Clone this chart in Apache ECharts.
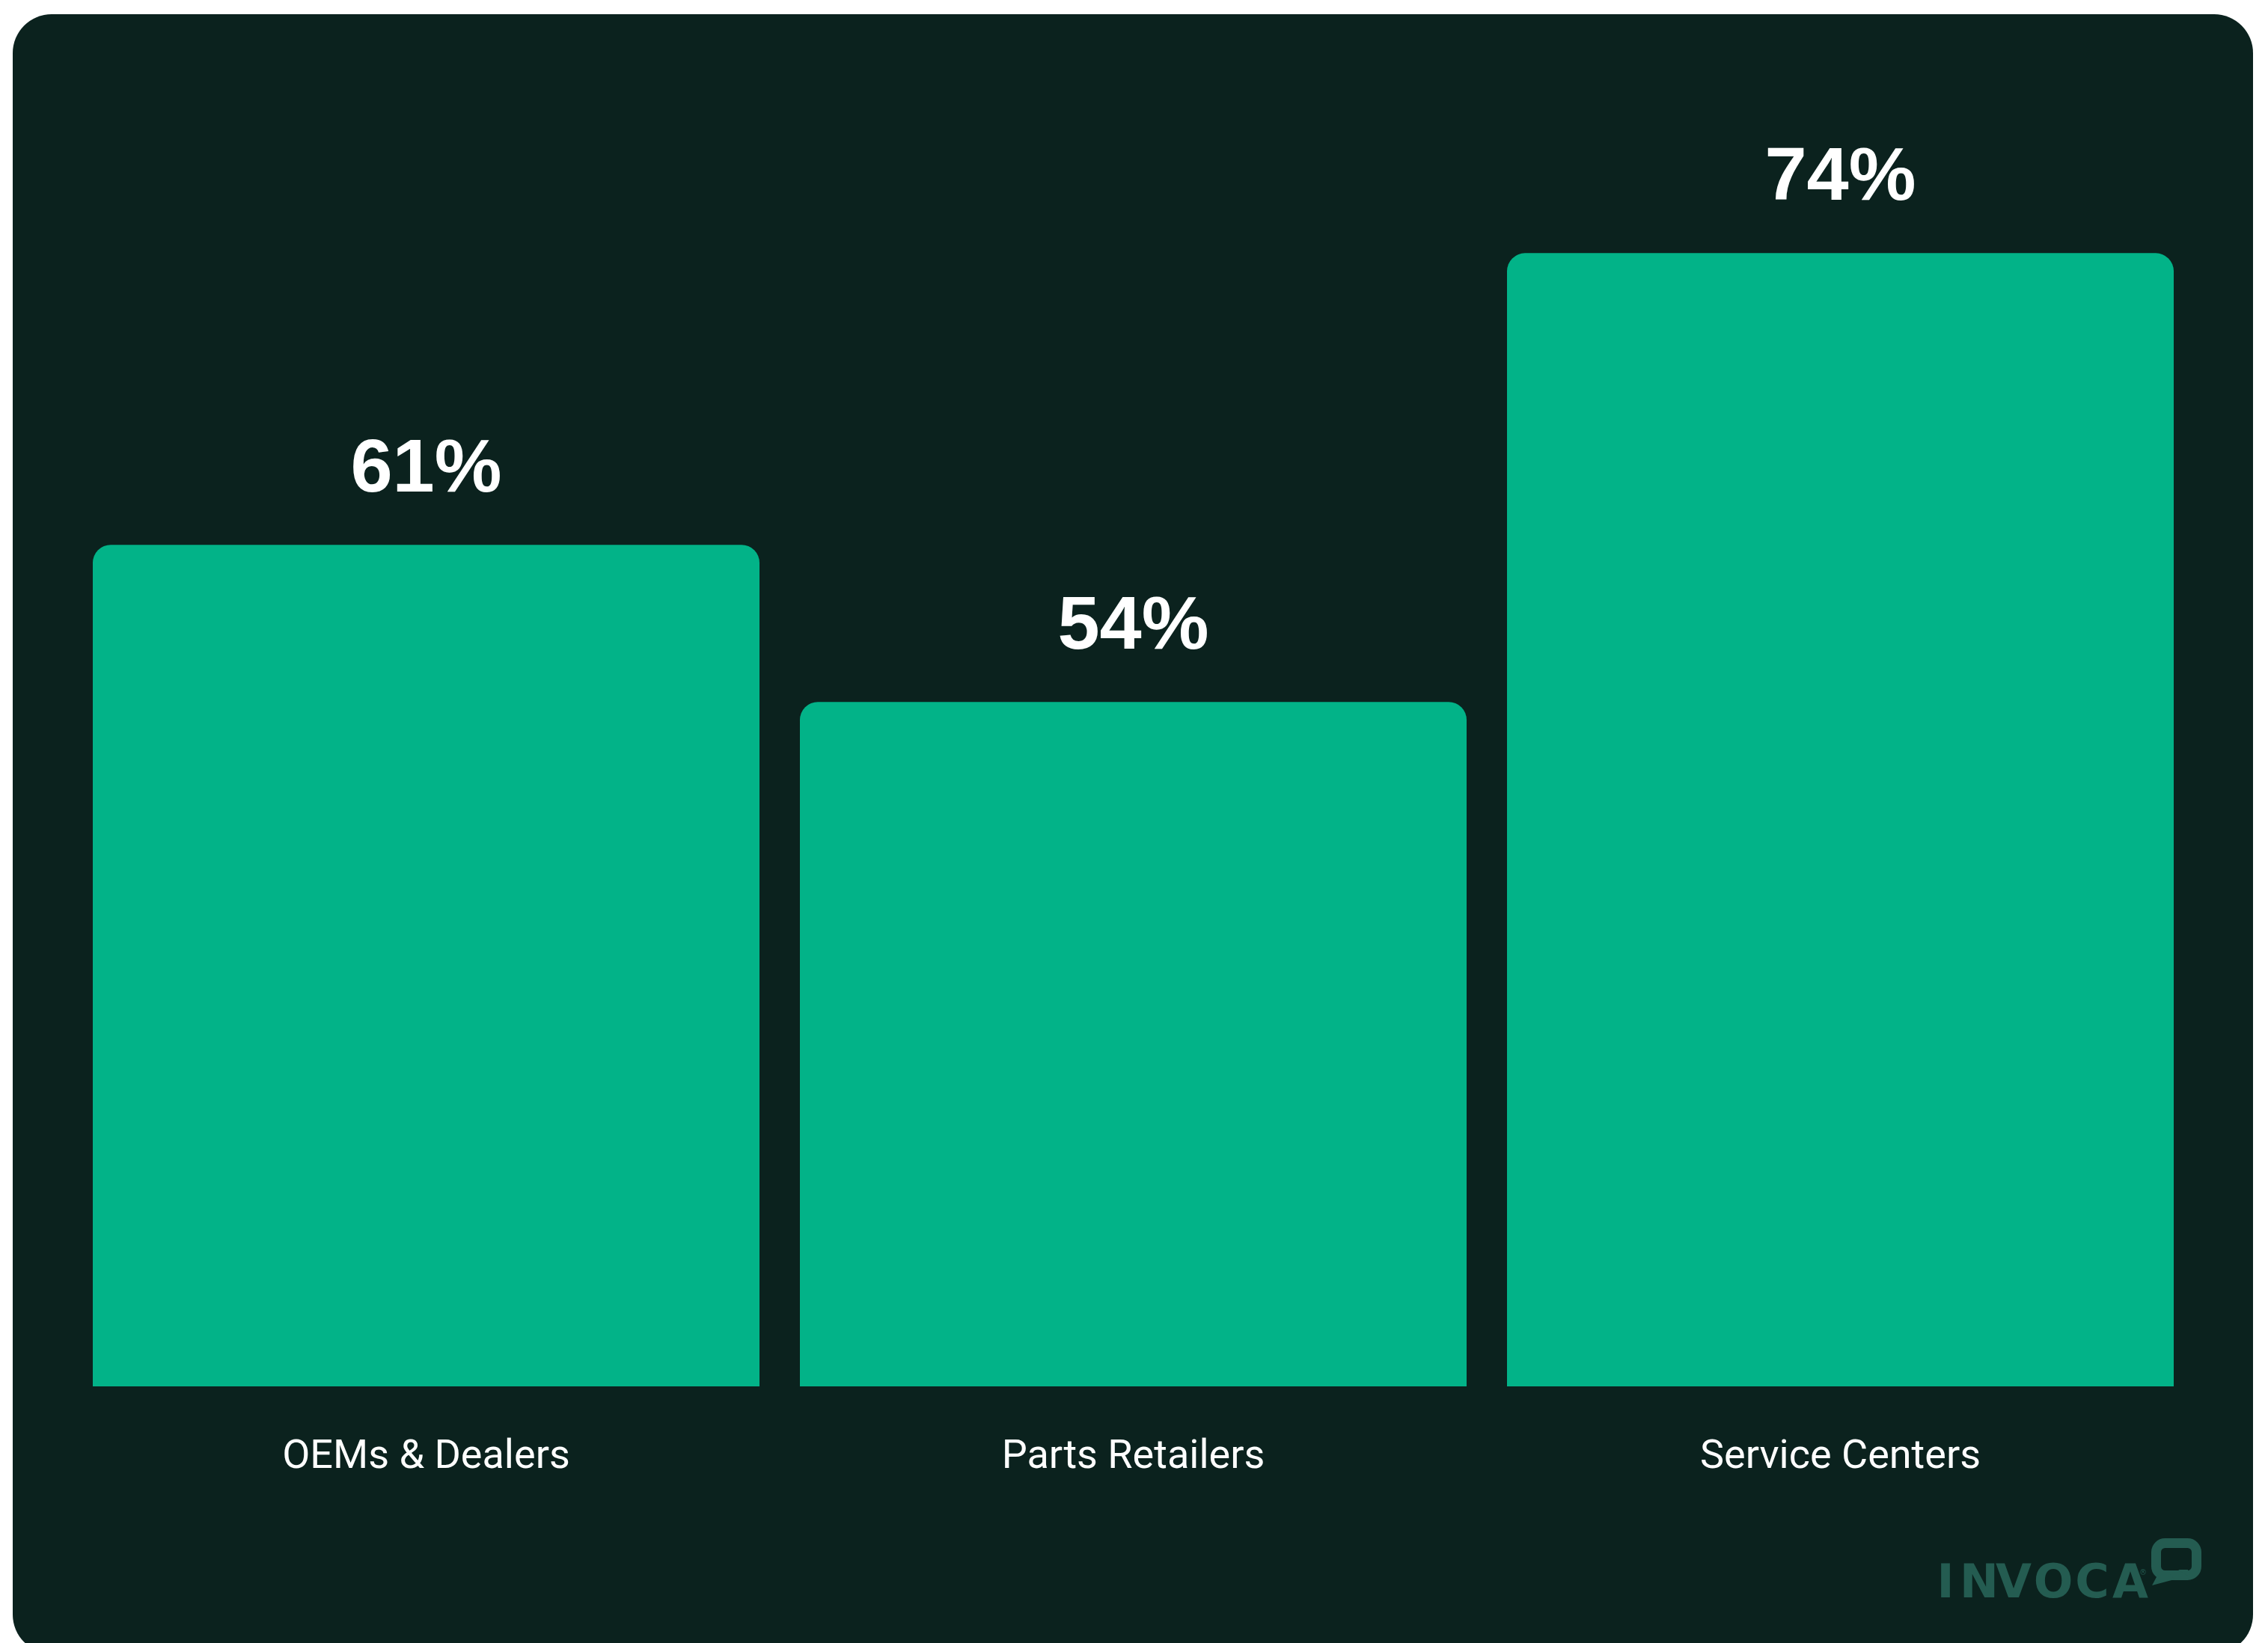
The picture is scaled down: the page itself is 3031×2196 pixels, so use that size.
<!DOCTYPE html>
<html>
<head>
<meta charset="utf-8">
<script src="https://cdn.jsdelivr.net/npm/echarts@6/dist/echarts.min.js"></script>
<style>
html,body{margin:0;padding:0;background:#ffffff;}
#chart{width:3031px;height:2196px;}
</style>
</head>
<body>
<div id="chart"></div>
<script>
var categories = ['OEMs & Dealers', 'Parts Retailers', 'Service Centers'];
var values = [61, 54, 74];
var logoLetters = ['I', 'N', 'V', 'O', 'C', 'A'];

var BG = '#0b221e';
var BAR = '#02b388';
var LOGO = '#245c51';

var chart = echarts.init(document.getElementById('chart'), null, {renderer: 'canvas'});

var letterX = [2600, 2645, 2691, 2744, 2796, 2847];
var logoGraphics = logoLetters.map(function (ch, i) {
  return {
    type: 'text',
    z: 100,
    style: {
      text: ch,
      x: letterX[i],
      y: 2119,
      fill: LOGO,
      font: 'bold 62px "DejaVu Sans"',
      textAlign: 'center',
      textVerticalAlign: 'middle'
    }
  };
});

var option = {
  backgroundColor: '#ffffff',
  animation: false,
  graphic: {
    elements: [
      {
        type: 'rect',
        z: -100,
        shape: {x: 17, y: 19, width: 2994, height: 2191, r: 52},
        style: {fill: BG}
      }
    ].concat(logoGraphics).concat([
      {
        type: 'text',
        z: 100,
        style: {text: '®', x: 2864, y: 2102, fill: LOGO, font: '10px "DejaVu Sans"', textAlign: 'center', textVerticalAlign: 'middle'}
      },
      {
        type: 'rect',
        z: 100,
        shape: {x: 2881.5, y: 2062.5, width: 54, height: 43, r: 12},
        style: {fill: null, stroke: LOGO, lineWidth: 13}
      },
      {
        type: 'polygon',
        z: 100,
        shape: {points: [[2884, 2104], [2876, 2119], [2906, 2111], [2900, 2104]]},
        style: {fill: LOGO}
      },
      {
        type: 'polygon',
        z: 100,
        shape: {points: [[2911, 2098], [2924, 2098], [2924, 2106]]},
        style: {fill: LOGO}
      }
    ])
  },
  grid: {
    left: 97,
    right: 99,
    top: 158.4,
    bottom: 343,
    containLabel: false
  },
  xAxis: {
    type: 'category',
    data: categories,
    axisLine: {show: false},
    axisTick: {show: false},
    splitLine: {show: false},
    axisLabel: {
      color: '#ffffff',
      fontFamily: 'Roboto',
      fontSize: 54,
      margin: 68
    }
  },
  yAxis: {
    type: 'value',
    min: 23.5,
    max: 80,
    show: false,
    splitLine: {show: false}
  },
  series: [{
    type: 'bar',
    data: values,
    barWidth: 891,
    itemStyle: {color: BAR, borderRadius: [24, 24, 0, 0]},
    label: {
      show: true,
      position: 'top',
      distance: 49,
      formatter: '{c}%',
      color: '#ffffff',
      fontFamily: '"Liberation Sans", Arial',
      fontWeight: 'bold',
      fontSize: 101
    }
  }]
};
chart.setOption(option);
</script>
</body>
</html>
